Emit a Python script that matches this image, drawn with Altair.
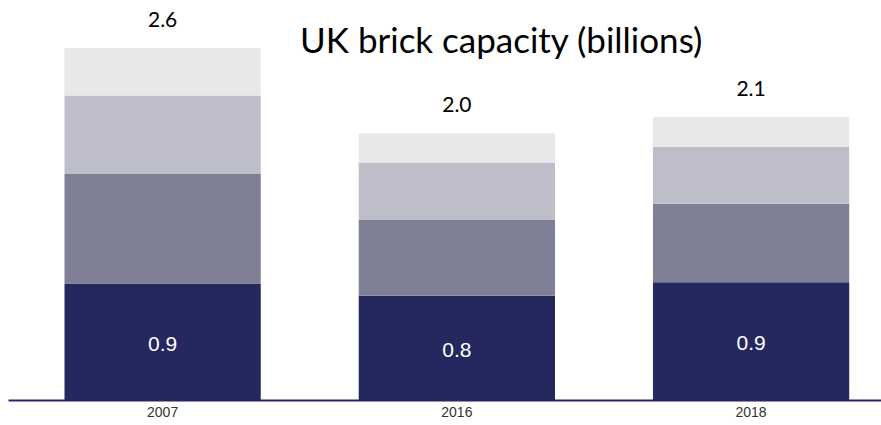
import altair as alt
import pandas as pd

years = ["2007", "2016", "2018"]
segments = ["s1", "s2", "s3", "s4"]
seg1 = [0.86, 0.77, 0.87]
seg2 = [0.81, 0.56, 0.58]
seg3 = [0.58, 0.42, 0.42]
seg4 = [0.35, 0.22, 0.22]
colors = ["#24285F", "#7F7F96", "#BEBECB", "#E8E8E8"]

rows = []
for i, y in enumerate(years):
    for j, (s, vals) in enumerate(zip(segments, [seg1, seg2, seg3, seg4])):
        rows.append({"year": y, "segment": s, "order": j, "value": vals[i]})
df = pd.DataFrame(rows)

x = alt.X("year:N", sort=years, title=None,
          scale=alt.Scale(paddingInner=0.333, paddingOuter=0.15, align=0.64),
          axis=alt.Axis(labelAngle=0, ticks=False, domainColor="#24285F", domainWidth=2,
                        labelFont="Liberation Sans", labelFontSize=14, labelColor="#333333",
                        labelPadding=5, grid=False))
yscale = alt.Scale(domain=[0, 2.6], nice=False, zero=True)

bars = alt.Chart(df).mark_bar().encode(
    x=x,
    y=alt.Y("sum(value):Q", stack="zero", scale=yscale, axis=None),
    color=alt.Color("segment:N", scale=alt.Scale(domain=segments, range=colors), legend=None),
    order=alt.Order("order:Q", sort="ascending"),
)

bottom = alt.Chart(df).transform_filter(alt.datum.segment == "s1").transform_calculate(
    mid="datum.value / 2"
).mark_text(color="white", font="Liberation Sans", fontSize=21, baseline="middle", dy=3).encode(
    x=alt.X("year:N", sort=years),
    y=alt.Y("mid:Q", scale=yscale),
    text=alt.Text("value:Q", format=".1f"),
)

totals = alt.Chart(df).transform_aggregate(
    total="sum(value)", groupby=["year"]
).mark_text(color="black", font="Lato", fontSize=21, baseline="middle", dy=-27).encode(
    x=alt.X("year:N", sort=years),
    y=alt.Y("total:Q", scale=yscale),
    text=alt.Text("total:Q", format=".1f"),
)

chart = alt.layer(bars, bottom, totals).properties(
    width=873, height=352,
    autosize=alt.AutoSizeParams(type="none"),
    padding={"left": 8, "top": 48, "right": 0, "bottom": 25},
    title=alt.TitleParams("UK brick capacity (billions)", anchor="start", frame="group",
                          dx=292, offset=-50, font="Lato", fontSize=35, fontWeight="normal",
                          color="black"),
).configure_view(stroke=None)

chart.save("out.html", embed_options={"renderer": "svg", "actions": False})
